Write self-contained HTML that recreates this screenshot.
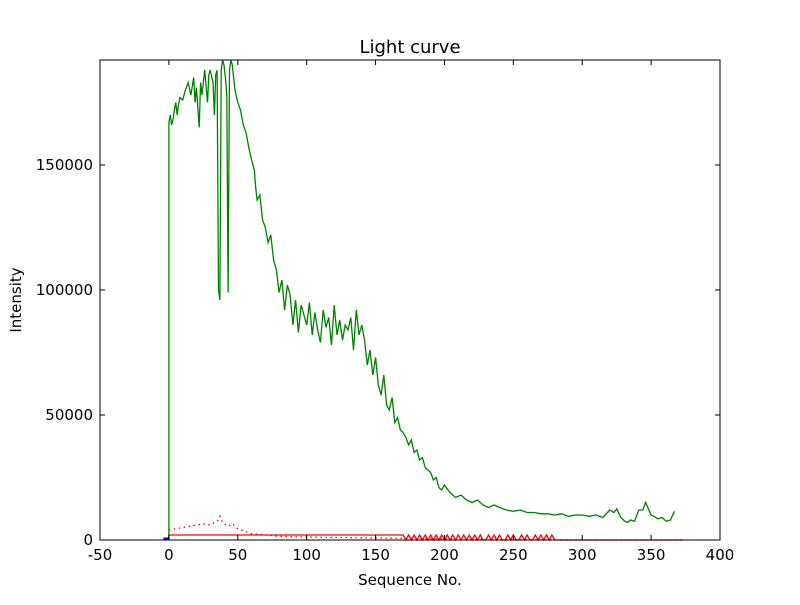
<!DOCTYPE html>
<html><head><meta charset="utf-8"><style>
body{margin:0;background:#fff;}
svg text{font-family:"DejaVu Sans","Liberation Sans",sans-serif;}
</style></head><body>
<svg id="chart" width="800" height="600">
<rect width="800" height="600" fill="#fff"/>
<g id="plot"></g>
<rect x="100" y="60" width="620" height="480" fill="none" stroke="#000" stroke-width="1"/>
<g id="ticks"></g>
<text x="410" y="53" font-size="18" text-anchor="middle">Light curve</text>
<text x="410" y="585" font-size="15" text-anchor="middle">Sequence No.</text>
<text x="0" y="0" font-size="15" text-anchor="middle" transform="translate(21,300) rotate(-90)">Intensity</text>
</svg>
<script>
const xTicks=[-50,0,50,100,150,200,250,300,350,400];
const yTicks=[0,50000,100000,150000];
const greenX=[0,0,1,2,3,4,5,6,7,8,10,12,14,16,18,19,20,22,23,24,26,28,29,30,32,33,34,35,36,37,38,39,40,41,42,43,44,45,46,47,48,50,52,54,56,58,60,62,63,64,66,68,70,72,74,76,78,80,82,84,86,88,90,92,94,96,98,100,102,104,106,108,110,112,114,116,118,120,122,124,126,128,130,132,134,136,138,140,142,144,146,148,150,152,154,156,158,160,162,164,166,168,170,172,174,176,178,180,182,184,186,188,190,192,194,196,198,200,204,208,212,216,220,224,228,232,236,240,245,250,255,260,265,270,275,280,285,290,295,300,305,310,315,320,323,325,328,331,333,335,338,341,344,346,348,350,352,355,358,361,364,367,370,373];
const greenY=[0,167000,170000,166000,168000,172000,175000,170000,174000,177000,176000,180000,183000,178000,185000,175000,181000,165000,183000,178000,188000,175000,186000,188000,183000,170000,186000,188000,100000,96000,188000,192000,190000,185000,178000,99000,188000,192000,190000,185000,180000,175000,172000,166000,163000,157000,152000,148000,141000,136000,138000,128000,125000,119000,122000,112000,108000,99000,104000,92000,102000,98000,86000,96000,83000,94000,90000,86000,95000,82000,91000,84000,79000,92000,85000,89000,78000,94000,82000,88000,80000,86000,84000,89000,76000,92000,82000,86000,80000,70000,76000,66000,73000,62000,58000,66000,54000,52000,57000,47000,49000,44000,43000,41000,38000,40000,35000,36000,32000,33000,29000,28000,27000,24000,25000,21000,20000,22000,19000,17000,18000,16000,15000,16000,14000,13000,14000,13000,12000,11500,12000,11000,11000,10500,10500,10000,10500,9500,10000,10000,9500,10000,9000,12000,11000,12500,9000,7500,7000,8000,7500,12000,12000,15000,12500,10000,9500,8500,9000,7500,8000,11500];
const dotX=[0,5,10,15,20,25,30,33,36,37,38,40,43,46,50,55,60,70,80,100,120,150,180,200,230,260,300,373];
const dotY=[4000,4500,5000,5500,6000,6500,6000,7000,8000,9500,8000,6500,5500,6500,4500,3500,2500,2000,1500,1200,1000,800,600,400,200,100,0,0];
const redX=[0,0,170,172,174,176,178,180,182,184,186,188,190,192,194,196,198,200,202,204,206,208,210,212,214,216,218,220,222,224,226,228,230,232,234,236,238,240,242,244,246,248,250,252,254,256,258,260,262,264,266,268,270,272,274,276,278,280,373];
const redY=[0,2000,2000,0,2000,0,2000,0,2000,0,2000,0,2000,0,2000,0,2000,0,2000,0,2000,0,2000,0,2000,0,2000,0,2000,0,2000,0,0,2000,0,2000,0,2000,0,0,2000,0,2000,0,0,2000,0,2000,0,0,2000,0,2000,0,2000,0,2000,0,0];
const X0=100,X1=720,Y0=540,Y1=60,XMIN=-50,XMAX=400,YMIN=0,YMAX=192000;
const sx=v=>X0+(v-XMIN)/(XMAX-XMIN)*(X1-X0);
const sy=v=>Y0-(v-YMIN)/(YMAX-YMIN)*(Y0-Y1);
const NS="http://www.w3.org/2000/svg";
const plot=document.getElementById('plot');
function poly(xs,ys,color,dash,name){
  const p=document.createElementNS(NS,'polyline');
  p.setAttribute('points',xs.map((x,i)=>sx(x).toFixed(1)+','+sy(ys[i]).toFixed(1)).join(' '));
  p.setAttribute('fill','none');p.setAttribute('stroke',color);p.setAttribute('stroke-width','1.3');
  if(dash)p.setAttribute('stroke-dasharray',dash);
  
  
  plot.appendChild(p);
}
poly(redX,redY,'#ff0000',null,'red-solid-series');
poly(dotX,dotY,'#ff0000','1.5,3.5','red-dotted-series');
poly(greenX,greenY,'#008000',null,'green-intensity-series');
const b=document.createElementNS(NS,'line');
b.setAttribute('x1',sx(-4));b.setAttribute('x2',sx(0));b.setAttribute('y1',sy(0)-1);b.setAttribute('y2',sy(0)-1);
b.setAttribute('stroke','#0000ff');b.setAttribute('stroke-width','3');


plot.appendChild(b);
const tg=document.getElementById('ticks');
function line(x1,y1,x2,y2){const l=document.createElementNS(NS,'line');l.setAttribute('x1',x1);l.setAttribute('y1',y1);l.setAttribute('x2',x2);l.setAttribute('y2',y2);l.setAttribute('stroke','#000');


tg.appendChild(l);}
function txt(x,y,s,anchor,name){const t=document.createElementNS(NS,'text');t.setAttribute('x',x);t.setAttribute('y',y);t.setAttribute('font-size','15');t.setAttribute('text-anchor',anchor);t.textContent=s;


tg.appendChild(t);}
xTicks.forEach(v=>{const x=sx(v);line(x,Y0,x,Y0-5);line(x,Y1,x,Y1+5);txt(x,Y0+20,String(v),'middle','x-tick-label');});
yTicks.forEach(v=>{const y=sy(v);line(X0,y,X0+5,y);line(X1,y,X1-5,y);txt(X0-7,y+5,String(v),'end','y-tick-label');});
</script>
</body></html>
